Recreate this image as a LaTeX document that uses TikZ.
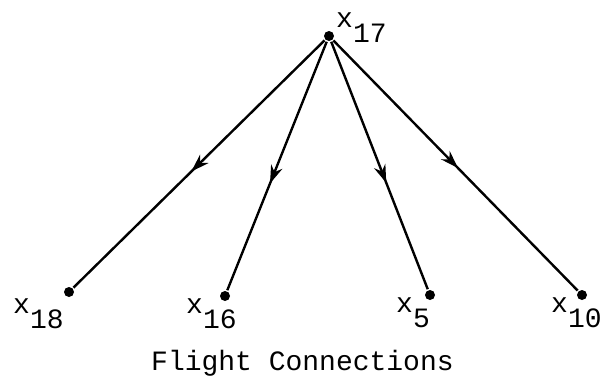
\documentclass[tikz,border=0pt]{standalone}
\usepackage{fontspec}
\usepackage{tikz}
\usetikzlibrary{arrows.meta,decorations.markings}
\newfontfamily\typefont{Liberation Mono}
\newcommand{\vx}[1]{x\raisebox{-0.55em}{#1}}
\tikzset{
  vdot/.style={circle,fill,inner sep=0pt,minimum size=5pt},
  vlab/.style={font=\typefont\fontsize{14}{16}\selectfont,inner sep=0pt,anchor=base west},
  flow/.style={decoration={markings,mark=at position #1 with {\arrow{Stealth[length=9pt,width=6pt]}}},postaction={decorate}}
}
\begin{document}
\begin{tikzpicture}[x=0.5pt,y=-0.5pt,line width=1.2pt]
  \useasboundingbox (0,0) rectangle (605,386);
  % vertices
  \node[vdot] (t17) at (329,36) {};
  \node[vdot] (b18) at (69,292) {};
  \node[vdot] (b16) at (225,296) {};
  \node[vdot] (b5)  at (430,295) {};
  \node[vdot] (b10) at (582,295) {};
  % labels
  \node[vlab] (l17) at (335,27) {\vx{17}};
  \node[vlab] (l18) at (12,313) {\vx{18}};
  \node[vlab] (l16) at (185,313) {\vx{16}};
  \node[vlab] (l5)  at (395,312) {\vx{5}};
  \node[vlab] (l10) at (550,312) {\vx{10}};
  % connections
  \draw[flow=0.53] (t17) -- (b18);
  \draw[flow=0.57] (t17) -- (b16);
  \draw[flow=0.57] (t17) -- (b5);
  \draw[flow=0.51] (t17) -- (b10);
  \node[vlab] (cap) at (150,370) {Flight Connections};
\end{tikzpicture}
\end{document}
